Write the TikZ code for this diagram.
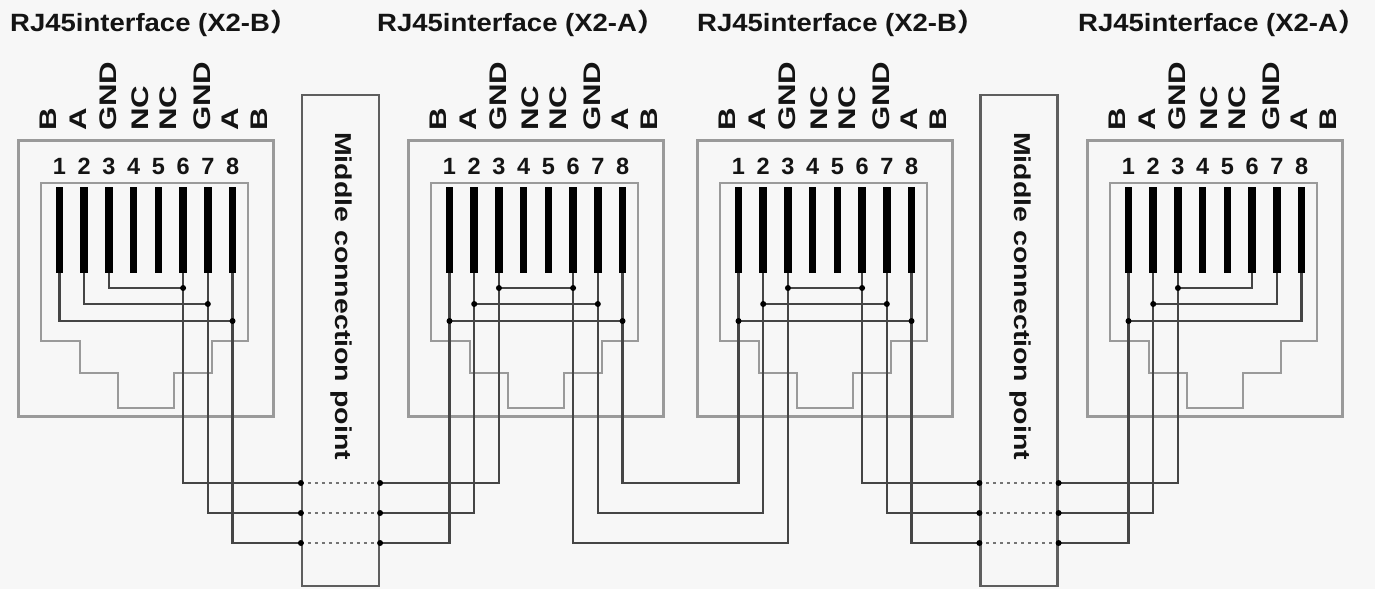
\documentclass[tikz,border=0pt]{standalone}
\usepackage{fontspec}
\setmainfont{Liberation Sans}
\newfontfamily\cjk{Noto Sans CJK SC}
\definecolor{bg}{HTML}{F7F7F7}
\definecolor{ink}{HTML}{141414}
\definecolor{outl}{HTML}{9A9A9A}
\definecolor{wirec}{HTML}{454545}
\definecolor{boxc}{HTML}{5E5E5E}
\tikzset{
  title/.style={font=\fontsize{25}{29}\selectfont\bfseries, text=ink, inner sep=0, anchor=base west},
  num/.style={font=\fontsize{23.5}{27}\selectfont\bfseries, text=ink, inner sep=0, anchor=base},
  lab/.style={font=\fontsize{24}{28}\selectfont\bfseries, text=ink, inner sep=0, anchor=base west, rotate=90},
  mtext/.style={font=\fontsize{23}{27}\selectfont\bfseries, text=ink, inner sep=0, rotate=-90},
  outerbox/.style={draw=outl, line width=3pt},
  innerbox/.style={draw=outl, line width=2.6pt},
  pinbar/.style={draw=black, line width=7.5pt},
  wire/.style={draw=wirec, line width=2.2pt},
  mbox/.style={draw=boxc, line width=2.2pt, minimum width=77pt, minimum height=491pt, inner sep=0},
  mdash/.style={draw=wirec!75, line width=2pt, dash pattern=on 3pt off 4pt},
  jdot/.style={fill=black}
}
\begin{document}
\begin{tikzpicture}[x=1pt,y=-1pt]
\fill[bg] (0,0) rectangle (1375,589);
\useasboundingbox (0,0) rectangle (1375,589);
% level coordinates
\coordinate (ya) at (0,288);
\coordinate (yb) at (0,304);
\coordinate (yc) at (0,321);
\coordinate (yd) at (0,483);
\coordinate (ye) at (0,513);
\coordinate (yf) at (0,543);
% titles
\node[title] (t1) at (10,31) {\scalebox{1.1}[1]{RJ45interface (X2-B{\cjk ）}}};
\node[title] (t2) at (377,31) {\scalebox{1.1}[1]{RJ45interface (X2-A{\cjk ）}}};
\node[title] (t3) at (697,31) {\scalebox{1.1}[1]{RJ45interface (X2-B{\cjk ）}}};
\node[title] (t4) at (1078,31) {\scalebox{1.1}[1]{RJ45interface (X2-A{\cjk ）}}};
% middle boxes
\node[mbox] (mb1) at (340.5,340.5) {};
\node[mbox] (mb2) at (1019,340.5) {};
\node[mtext] (mt1) at (341,296) {\scalebox{1.24}[1]{Middle connection point}};
\node[mtext] (mt2) at (1020,296) {\scalebox{1.24}[1]{Middle connection point}};
% connectors
\foreach \c/\ox in {1/18,2/408,3/697,4/1087}{
  \pgfmathsetmacro\il{\ox+23}
  \draw[outerbox] (\ox,140) rectangle (\ox+255,416);
  \draw[innerbox] (\il,183) -- (\il+207,183) -- (\il+207,341) -- (\il+171,341) -- (\il+171,373)
     -- (\il+133,373) -- (\il+133,408) -- (\il+77,408) -- (\il+77,373) -- (\il+39,373)
     -- (\il+39,341) -- (\il,341) -- cycle;
  \foreach \i in {1,...,8}{
    \pgfmathsetmacro\px{\il+18.5+(\i-1)*24.72}
    \coordinate (c\c p\i) at (\px,273);
    \node[num] (n\c-\i) at (\px,174) {\i};
  }
  \foreach \t/\o [count=\k] in {B/38,A/68,GND/98,NC/130,NC/158,GND/192,A/220,B/249}{
    \node[lab] (l\c-\k) at (\ox+\o,131) {\scalebox{1.3}[1]{\t}};
  }
}
% connector 1 wiring
\draw[wire] (c1p3) |- (c1p6 |- ya);
\draw[wire] (c1p2) |- (c1p7 |- yb);
\draw[wire] (c1p1) |- (c1p8 |- yc);
\draw[wire] (c1p6) |- (mb1.west |- yd);
\draw[wire] (c1p7) |- (mb1.west |- ye);
\draw[wire] (c1p8) |- (mb1.west |- yf);
\foreach \p/\y in {6/ya,7/yb,8/yc}{\fill[jdot] (c1p\p |- \y) circle (3pt);}
% connector 2 wiring
\draw[wire] (c2p3 |- ya) -- (c2p6 |- ya);
\draw[wire] (c2p2 |- yb) -- (c2p7 |- yb);
\draw[wire] (c2p1 |- yc) -- (c2p8 |- yc);
\draw[wire] (c2p3) |- (mb1.east |- yd);
\draw[wire] (c2p2) |- (mb1.east |- ye);
\draw[wire] (c2p1) |- (mb1.east |- yf);
\draw[wire] (c2p8) |- (c3p1 |- yd) -- (c3p1);
\draw[wire] (c2p7) |- (c3p2 |- ye) -- (c3p2);
\draw[wire] (c2p6) |- (c3p3 |- yf) -- (c3p3);
\foreach \p/\y in {3/ya,6/ya,2/yb,7/yb,1/yc,8/yc}{\fill[jdot] (c2p\p |- \y) circle (3pt);}
% connector 3 wiring
\draw[wire] (c3p3 |- ya) -- (c3p6 |- ya);
\draw[wire] (c3p2 |- yb) -- (c3p7 |- yb);
\draw[wire] (c3p1 |- yc) -- (c3p8 |- yc);
\draw[wire] (c3p6) |- (mb2.west |- yd);
\draw[wire] (c3p7) |- (mb2.west |- ye);
\draw[wire] (c3p8) |- (mb2.west |- yf);
\foreach \p/\y in {3/ya,6/ya,2/yb,7/yb,1/yc,8/yc}{\fill[jdot] (c3p\p |- \y) circle (3pt);}
% connector 4 wiring
\draw[wire] (c4p6) |- (c4p3 |- ya);
\draw[wire] (c4p7) |- (c4p2 |- yb);
\draw[wire] (c4p8) |- (c4p1 |- yc);
\draw[wire] (c4p3) |- (mb2.east |- yd);
\draw[wire] (c4p2) |- (mb2.east |- ye);
\draw[wire] (c4p1) |- (mb2.east |- yf);
\foreach \p/\y in {3/ya,2/yb,1/yc}{\fill[jdot] (c4p\p |- \y) circle (3pt);}
% middle dotted links
\foreach \m in {mb1,mb2}{
  \foreach \y in {yd,ye,yf}{
    \draw[mdash] (\m.west |- \y) -- (\m.east |- \y);
    \fill[jdot] (\m.west |- \y) circle (3pt);
    \fill[jdot] (\m.east |- \y) circle (3pt);
  }
}
% pin bars
\foreach \c in {1,2,3,4}{
  \foreach \i in {1,...,8}{
    \draw[pinbar] ([yshift=86pt]c\c p\i) -- (c\c p\i);
  }
}
\end{tikzpicture}
\end{document}
